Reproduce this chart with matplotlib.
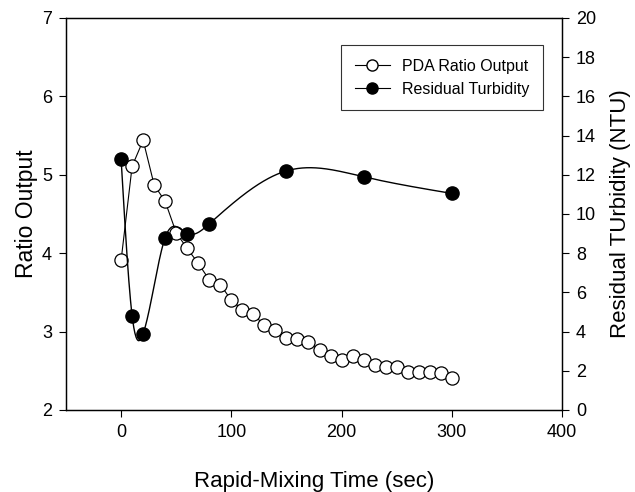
import numpy as np
import matplotlib
matplotlib.use("Agg")
import matplotlib.pyplot as plt

plt.rcParams['font.family'] = ['Liberation Sans', 'DejaVu Sans']

# PDA ratio output (left axis)
pda_time = [0, 10, 20, 30, 40, 50, 60, 70, 80, 90, 100, 110, 120, 130, 140, 150,
            160, 170, 180, 190, 200, 210, 220, 230, 240, 250, 260, 270, 280, 290, 300]
pda_ratio = [3.91, 5.11, 5.44, 4.87, 4.66, 4.26, 4.06, 3.87, 3.66, 3.60, 3.40, 3.28,
             3.22, 3.08, 3.02, 2.92, 2.90, 2.87, 2.77, 2.69, 2.64, 2.69, 2.64, 2.57,
             2.55, 2.55, 2.48, 2.48, 2.49, 2.47, 2.41]

# Residual turbidity (right axis)
turb_time = [0, 10, 20, 40, 60, 80, 150, 220, 300]
turb_ntu = [12.8, 4.8, 3.9, 8.8, 9.0, 9.5, 12.2, 11.9, 11.05]


def natural_spline(x, y, xs):
    x = np.asarray(x, float)
    y = np.asarray(y, float)
    n = len(x)
    h = np.diff(x)
    A = np.zeros((n, n))
    b = np.zeros(n)
    A[0, 0] = A[-1, -1] = 1
    for i in range(1, n - 1):
        A[i, i - 1] = h[i - 1]
        A[i, i] = 2 * (h[i - 1] + h[i])
        A[i, i + 1] = h[i]
        b[i] = 3 * ((y[i + 1] - y[i]) / h[i] - (y[i] - y[i - 1]) / h[i - 1])
    c = np.linalg.solve(A, b)
    out = np.empty_like(xs)
    for k, t in enumerate(xs):
        i = min(np.searchsorted(x, t, side='right') - 1, n - 2)
        i = max(i, 0)
        d = (c[i + 1] - c[i]) / (3 * h[i])
        bb = (y[i + 1] - y[i]) / h[i] - h[i] * (2 * c[i] + c[i + 1]) / 3
        dx = t - x[i]
        out[k] = y[i] + bb * dx + c[i] * dx ** 2 + d * dx ** 3
    return out


fig = plt.figure(figsize=(6.35, 4.92), dpi=100)
ax = fig.add_axes([66 / 635, 1 - 410 / 492, (562 - 66) / 635, (410 - 18) / 492])
ax2 = ax.twinx()

ax.plot(pda_time, pda_ratio, color='black', lw=0.8, marker='o', ms=9.5,
        mfc='white', mec='black', mew=0.9, label='PDA Ratio Output', zorder=3)

xs = np.linspace(turb_time[0], turb_time[-1], 600)
ax2.plot(xs, natural_spline(turb_time, turb_ntu, xs), color='black', lw=1.0, zorder=2)
ax2.plot(turb_time, turb_ntu, ls='none', marker='o', ms=9.5, mfc='black', mec='black', zorder=3)

ax.set_xlim(-50, 400)
ax.set_ylim(2, 7)
ax2.set_ylim(0, 20)
ax.set_xticks([0, 100, 200, 300, 400])
ax.set_yticks([2, 3, 4, 5, 6, 7])
ax2.set_yticks(range(0, 21, 2))

for a in (ax, ax2):
    a.tick_params(direction='out', length=5, width=0.8, labelsize=13, pad=5)
    for s in a.spines.values():
        s.set_linewidth(0.9)

ax.set_xlabel('Rapid-Mixing Time (sec)', fontsize=16, labelpad=22)
ax.set_ylabel('Ratio Output', fontsize=16.5, labelpad=3)
ax2.set_ylabel('Residual TUrbidity (NTU)', fontsize=16, labelpad=10)

handles = [
    plt.Line2D([], [], color='black', lw=0.8, marker='o', ms=8, mfc='white', mec='black'),
    plt.Line2D([], [], color='black', lw=0.8, marker='o', ms=8, mfc='black', mec='black'),
]
leg = ax2.legend(handles, ['PDA Ratio Output', 'Residual Turbidity'],
                 loc='upper right', bbox_to_anchor=(0.961, 0.931), fontsize=11.5,
                 frameon=True, fancybox=False, edgecolor='black',
                 handlelength=2.2, borderpad=0.85, labelspacing=0.5, handletextpad=0.75,
                 borderaxespad=0)
leg.get_frame().set_linewidth(0.8)

fig.savefig('out.png', dpi=100)
